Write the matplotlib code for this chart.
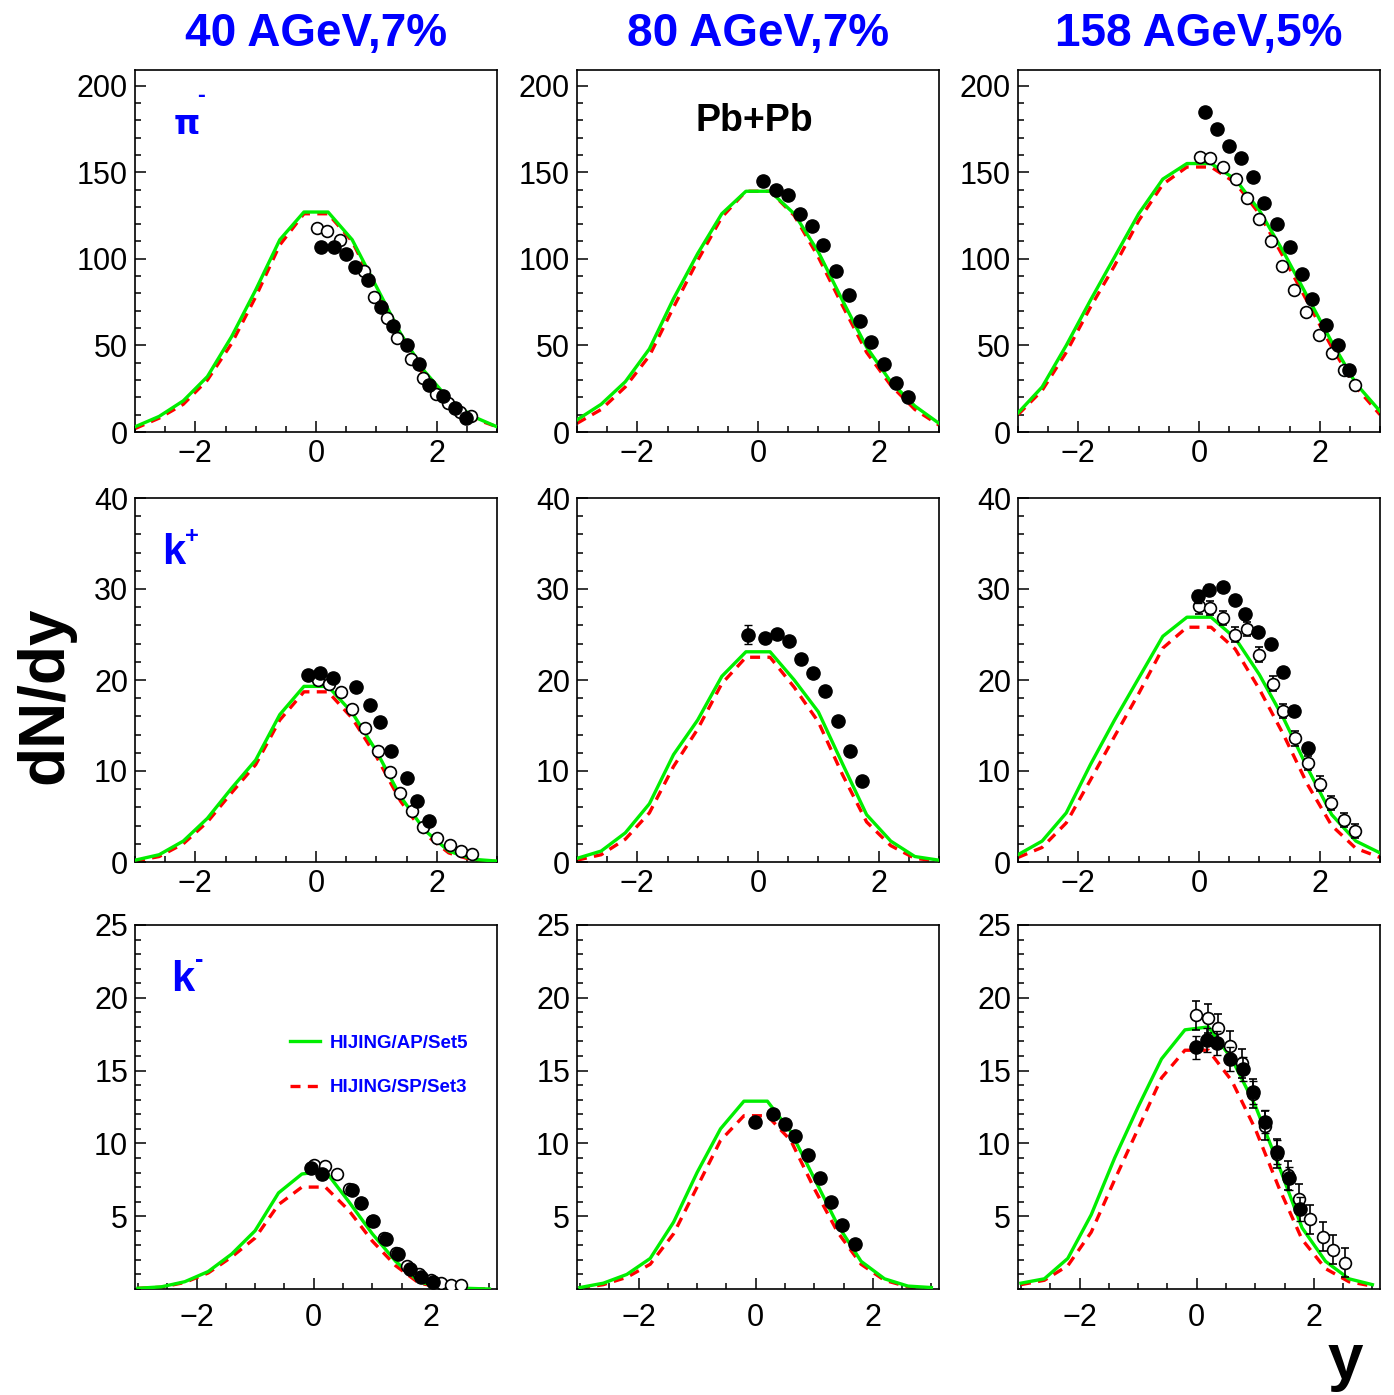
import numpy as np
import matplotlib
matplotlib.use("Agg")
import matplotlib.pyplot as plt
from matplotlib.ticker import MultipleLocator

plt.rcParams['font.family'] = ['Liberation Sans', 'DejaVu Sans']

# rapidity grid of the HIJING curves
y_grid = [-3.0, -2.6, -2.2, -1.8, -1.4, -1.0, -0.6, -0.2, 0.2, 0.6, 1.0, 1.4, 1.8, 2.2, 2.6, 3.0]

# ---- pi- ----
pim40_ap = [3, 9, 18, 32, 55, 82, 111, 127, 127, 111, 84, 57, 35, 19, 9, 3]
pim40_sp = [2, 8, 16, 30, 51, 78, 108, 126, 126, 110, 82, 54, 32, 17, 8, 3]
pim40_fx = [0.09, 0.30, 0.49, 0.64, 0.86, 1.07, 1.28, 1.50, 1.70, 1.88, 2.10, 2.30, 2.49]
pim40_fy = [107, 107, 103, 95, 88, 72, 61, 50, 39, 27, 21, 14, 8]
pim40_ox = [0.01, 0.19, 0.39, 0.80, 0.96, 1.17, 1.35, 1.57, 1.77, 1.99, 2.19, 2.38, 2.57]
pim40_oy = [118, 116, 111, 93, 78, 66, 54, 42, 31, 22, 16.6, 11.7, 9]

pim80_ap = [7, 16, 29, 48, 77, 103, 126, 139, 139, 126, 104, 76, 49, 29, 15, 5]
pim80_sp = [5, 13, 26, 44, 72, 99, 124, 139, 139, 125, 101, 73, 46, 27, 13, 4]
pim80_fx = [0.09, 0.30, 0.50, 0.69, 0.89, 1.08, 1.29, 1.50, 1.69, 1.87, 2.09, 2.29, 2.49]
pim80_fy = [145, 140, 137, 126, 119, 108, 93, 79, 64, 52, 39, 28.5, 20]

pim158_ap = [11, 26, 50, 76, 101, 126, 146, 155, 155, 146, 128, 104, 78, 52, 28, 12]
pim158_sp = [10, 24, 46, 72, 96, 122, 143, 153, 153, 144, 126, 101, 75, 49, 26, 10]
pim158_fx = [0.10, 0.30, 0.50, 0.69, 0.89, 1.08, 1.29, 1.51, 1.70, 1.88, 2.10, 2.30, 2.49]
pim158_fy = [185, 175, 165, 158, 147, 132, 120, 107, 91, 77, 62, 50, 36]
pim158_ox = [0.01, 0.19, 0.39, 0.61, 0.80, 0.99, 1.20, 1.37, 1.58, 1.77, 1.99, 2.21, 2.40, 2.59]
pim158_oy = [159, 158, 153, 146, 135, 123, 110, 96, 82, 69, 56, 45.5, 36, 27]

# ---- k+ ----
kp40_ap = [0.2, 0.8, 2.3, 4.8, 8.1, 11.2, 16.2, 19.3, 19.3, 16.4, 12.2, 7.2, 3.5, 1.2, 0.3, 0.1]
kp40_sp = [0.1, 0.6, 2.0, 4.4, 7.6, 10.7, 15.6, 18.7, 18.7, 15.8, 11.6, 6.7, 3.1, 1.0, 0.2, 0.05]
kp40_fx = [-0.14, 0.07, 0.29, 0.67, 0.89, 1.06, 1.25, 1.50, 1.68, 1.87]
kp40_fy = [20.6, 20.8, 20.2, 19.2, 17.3, 15.4, 12.2, 9.2, 6.7, 4.5]
kp40_ox = [0.03, 0.22, 0.42, 0.60, 0.81, 1.03, 1.22, 1.40, 1.59, 1.78, 2.01, 2.22, 2.41, 2.58]
kp40_oy = [20.0, 19.6, 18.7, 16.8, 14.7, 12.2, 9.9, 7.6, 5.6, 3.9, 2.6, 1.9, 1.2, 0.9]

kp80_ap = [0.4, 1.2, 3.2, 6.4, 11.8, 15.6, 20.4, 23.1, 23.1, 20.0, 16.5, 10.8, 5.2, 2.3, 0.6, 0.2]
kp80_sp = [0.2, 0.8, 2.5, 5.4, 10.5, 14.6, 19.6, 22.5, 22.5, 19.2, 15.4, 9.6, 4.4, 1.8, 0.4, 0.1]
kp80_fx = [-0.17, 0.12, 0.32, 0.52, 0.72, 0.91, 1.11, 1.32, 1.52, 1.72]
kp80_fy = [25.0, 24.6, 25.1, 24.3, 22.3, 20.8, 18.8, 15.5, 12.2, 8.9]
kp80_fe = [1.0, 0.3, 0.3, 0.3, 0.3, 0.3, 0.3, 0.3, 0.3, 0.3]

kp158_ap = [0.8, 2.3, 5.4, 10.7, 15.6, 20.2, 24.8, 26.9, 26.9, 24.6, 20.6, 15.8, 10.3, 5.2, 2.3, 1.0]
kp158_sp = [0.5, 1.6, 4.3, 9.0, 13.8, 18.5, 23.5, 25.8, 25.8, 23.4, 19.0, 14.0, 8.5, 4.0, 1.5, 0.5]
kp158_fx = [-0.02, 0.17, 0.39, 0.60, 0.77, 0.97, 1.19, 1.39, 1.58, 1.80]
kp158_fy = [29.2, 29.9, 30.2, 28.8, 27.3, 25.3, 24.0, 20.9, 16.6, 12.5]
kp158_fe = [0.7, 0.6, 0.5, 0.5, 0.5, 0.5, 0.5, 0.5, 0.5, 0.6]
kp158_ox = [0.0, 0.18, 0.39, 0.60, 0.80, 1.00, 1.22, 1.39, 1.59, 1.80, 2.00, 2.19, 2.41, 2.58]
kp158_oy = [28.1, 27.9, 26.8, 25.0, 25.6, 22.8, 19.6, 16.6, 13.6, 10.9, 8.6, 6.5, 4.6, 3.4]
kp158_oe = [0.8, 0.8, 0.8, 0.8, 0.8, 0.8, 0.8, 0.8, 0.8, 0.8, 0.8, 0.8, 0.8, 0.8]

# ---- k- ----
km40_ap = [0.05, 0.15, 0.5, 1.2, 2.4, 4.0, 6.6, 7.9, 8.1, 6.0, 3.8, 1.9, 0.5, 0.1, 0.05, 0.0]
km40_sp = [0.05, 0.12, 0.45, 1.1, 2.2, 3.5, 5.8, 7.0, 7.0, 5.4, 3.3, 1.6, 0.4, 0.1, 0.03, 0.0]
km40_fx = [-0.04, 0.15, 0.65, 0.81, 1.02, 1.24, 1.44, 1.64, 1.84, 2.03]
km40_fy = [8.3, 7.9, 6.8, 5.9, 4.7, 3.4, 2.4, 1.4, 0.85, 0.5]
km40_ox = [0.0, 0.19, 0.39, 0.6, 0.8, 1.0, 1.2, 1.4, 1.6, 1.8, 2.0, 2.17, 2.34, 2.52]
km40_oy = [8.5, 8.45, 7.9, 6.9, 5.9, 4.7, 3.5, 2.5, 1.6, 1.0, 0.6, 0.4, 0.3, 0.25]

km80_ap = [0.1, 0.4, 1.0, 2.1, 4.6, 8.0, 11.0, 12.9, 12.9, 10.8, 7.6, 4.4, 1.9, 0.7, 0.2, 0.1]
km80_sp = [0.05, 0.3, 0.8, 1.7, 3.8, 7.0, 10.2, 11.9, 11.9, 10.2, 6.9, 3.9, 1.7, 0.6, 0.15, 0.05]
km80_fx = [-0.01, 0.29, 0.50, 0.68, 0.90, 1.10, 1.29, 1.48, 1.69]
km80_fy = [11.5, 12.0, 11.3, 10.5, 9.2, 7.6, 6.0, 4.4, 3.1]

km158_ap = [0.4, 0.7, 2.1, 5.1, 9.0, 12.5, 15.8, 17.8, 18.0, 15.8, 12.6, 8.5, 4.2, 1.9, 0.7, 0.3]
km158_sp = [0.3, 0.6, 1.6, 3.9, 7.5, 11.0, 14.5, 16.4, 16.4, 14.3, 11.0, 7.0, 3.4, 1.4, 0.5, 0.2]
km158_fx = [-0.01, 0.17, 0.35, 0.57, 0.79, 0.96, 1.17, 1.38, 1.57, 1.77]
km158_fy = [16.6, 17.1, 16.9, 15.8, 15.1, 13.5, 11.5, 9.4, 7.6, 5.5]
km158_fe = [0.8, 0.8, 0.8, 0.8, 0.8, 0.8, 0.8, 0.8, 0.8, 0.8]
km158_ox = [-0.01, 0.19, 0.37, 0.57, 0.77, 0.97, 1.17, 1.37, 1.56, 1.75, 1.94, 2.15, 2.33, 2.53]
km158_oy = [18.8, 18.6, 17.9, 16.7, 15.5, 13.4, 11.2, 9.3, 7.8, 6.2, 4.8, 3.6, 2.7, 1.8]
km158_oe = [1.0, 1.0, 1.0, 1.0, 1.0, 1.0, 1.0, 1.0, 1.0, 1.0, 1.0, 1.0, 1.0, 1.0]

energies = ['40 AGeV,7%', '80 AGeV,7%', '158 AGeV,5%']

# (ap, sp, filled x, filled y, filled err, open x, open y, open err) per row, column
rows = [
    [(pim40_ap, pim40_sp, pim40_fx, pim40_fy, None, pim40_ox, pim40_oy, None),
     (pim80_ap, pim80_sp, pim80_fx, pim80_fy, None, None, None, None),
     (pim158_ap, pim158_sp, pim158_fx, pim158_fy, None, pim158_ox, pim158_oy, None)],
    [(kp40_ap, kp40_sp, kp40_fx, kp40_fy, None, kp40_ox, kp40_oy, None),
     (kp80_ap, kp80_sp, kp80_fx, kp80_fy, kp80_fe, None, None, None),
     (kp158_ap, kp158_sp, kp158_fx, kp158_fy, kp158_fe, kp158_ox, kp158_oy, kp158_oe)],
    [(km40_ap, km40_sp, km40_fx, km40_fy, None, km40_ox, km40_oy, None),
     (km80_ap, km80_sp, km80_fx, km80_fy, None, None, None, None),
     (km158_ap, km158_sp, km158_fx, km158_fy, km158_fe, km158_ox, km158_oy, km158_oe)],
]
row_ylim = [209, 40, 25]
row_xlim = [(-3, 3), (-3, 3), (-3.05, 3.13)]
row_minor = [10, 2, 1]
row_ticks = [[0, 50, 100, 150, 200], [0, 10, 20, 30, 40], [5, 10, 15, 20, 25]]
row_xpad = [5, 5, 10]

W, H = 1394, 1395
fig = plt.figure(figsize=(W / 100, H / 100), dpi=100)

col_left = [135, 577, 1018]
row_top = [70, 498, 925]
row_bot = [432, 862, 1289]
pw = 362

green = '#00ee00'
blue = '#0000ff'
axes = []
for r in range(3):
    for c in range(3):
        ax = fig.add_axes([col_left[c] / W, 1 - row_bot[r] / H, pw / W, (row_bot[r] - row_top[r]) / H])
        axes.append(ax)
        ap, sp, fx, fy, fe, ox, oy, oe = rows[r][c]
        ax.plot(y_grid, ap, color=green, lw=2.4, zorder=3, label='HIJING/AP/Set5')
        ax.plot(y_grid, sp, color='red', lw=2.4, ls=(0, (3, 2.2)), zorder=2, label='HIJING/SP/Set3')
        if ox is not None:
            ax.errorbar(ox, oy, yerr=oe, fmt='o', ms=8.5, mfc='white', mec='black', mew=1.2,
                        ecolor='black', elinewidth=1.2, capsize=3, zorder=4)
        ax.errorbar(fx, fy, yerr=fe, fmt='o', ms=9.5, mfc='black', mec='black',
                    ecolor='black', elinewidth=1.2, capsize=3, zorder=5)

        ax.set_xlim(*row_xlim[r])
        ax.set_ylim(0, row_ylim[r])
        ax.set_xticks([-2, 0, 2])
        ax.set_xticklabels(['\u22122', '0', '2'])
        ax.xaxis.set_minor_locator(MultipleLocator(0.5))
        ax.set_yticks(row_ticks[r])
        ax.yaxis.set_minor_locator(MultipleLocator(row_minor[r]))
        ax.tick_params(which='both', direction='in', top=False, right=False, labelsize=22, width=1.1)
        ax.tick_params(which='major', length=8, pad=5)
        ax.tick_params(axis='x', which='major', pad=row_xpad[r])
        ax.tick_params(which='minor', length=4.5)
        for s in ax.spines.values():
            s.set_linewidth(1.2)
        if r == 0:
            ax.set_title(energies[c], color=blue, fontsize=33, fontweight='bold', pad=17)

# particle labels
axes[0].text(0.108, 0.85, '\u03c0', transform=axes[0].transAxes, color=blue,
             fontsize=24, family='DejaVu Sans', fontweight='bold', va='center')
axes[0].text(0.172, 0.93, '-', transform=axes[0].transAxes, color=blue,
             fontsize=17, fontweight='bold', va='center')
axes[3].text(0.075, 0.85, 'k', transform=axes[3].transAxes, color=blue,
             fontsize=30, fontweight='bold', va='center')
axes[3].text(0.138, 0.895, '+', transform=axes[3].transAxes, color=blue,
             fontsize=17, fontweight='bold', va='center')
axes[6].text(0.1, 0.85, 'k', transform=axes[6].transAxes, color=blue,
             fontsize=30, fontweight='bold', va='center')
axes[6].text(0.165, 0.905, '-', transform=axes[6].transAxes, color=blue,
             fontsize=18, fontweight='bold', va='center')
axes[1].text(0.49, 0.86, 'Pb+Pb', transform=axes[1].transAxes, color='black',
             fontsize=27, fontweight='bold', ha='center', va='center')

leg = axes[6].legend(loc='center left', bbox_to_anchor=(0.382, 0.614), frameon=False,
                     fontsize=13.5, handlelength=1.6, labelspacing=1.45, handletextpad=0.5)
for t in leg.get_texts():
    t.set_color(blue)
    t.set_fontweight('bold')

fig.text(45 / W, 1 - 695 / H, 'dN/dy', rotation=90, fontsize=46, fontweight='bold',
         ha='center', va='center')
fig.text(1345 / W, 1 - 1362 / H, 'y', fontsize=46, fontweight='bold', ha='center', va='center')

plt.savefig('out.png', dpi=100)
